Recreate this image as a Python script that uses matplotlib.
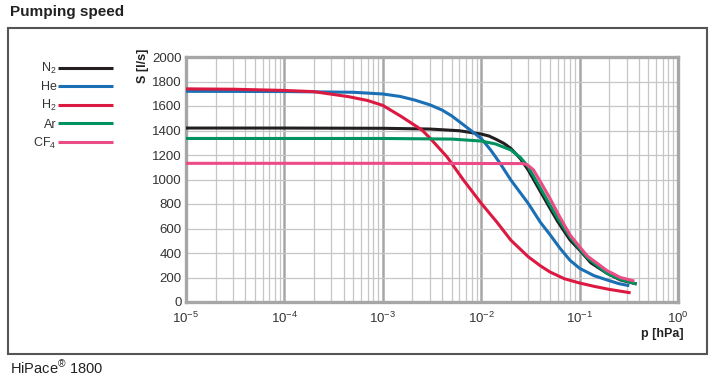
import matplotlib
matplotlib.use("Agg")
import matplotlib.pyplot as plt
from matplotlib.patches import Rectangle
from matplotlib.ticker import FixedLocator, LogLocator, NullFormatter

plt.rcParams['font.family'] = ['Liberation Sans', 'DejaVu Sans']
plt.rcParams['mathtext.fontset'] = 'custom'
plt.rcParams['mathtext.rm'] = 'Liberation Sans'
plt.rcParams['mathtext.it'] = 'Liberation Sans:italic'
plt.rcParams['mathtext.bf'] = 'Liberation Sans:bold'

# Data (pressure in hPa, pumping speed in l/s)
p_n2 = [1e-5, 1e-4, 1e-3, 3e-3, 6e-3, 1e-2, 1.2e-2, 1.4e-2, 1.7e-2, 2e-2, 2.5e-2, 3e-2,
        4e-2, 5e-2, 6e-2, 8e-2, 1e-1, 1.3e-1, 1.9e-1, 2.6e-1, 3.8e-1]
s_n2 = [1420, 1420, 1418, 1412, 1398, 1371, 1355, 1330, 1295, 1254, 1170, 1078,
        901, 765, 656, 506, 424, 320, 234, 180, 147]

p_he = [1e-5, 1e-4, 5e-4, 1e-3, 1.5e-3, 2.1e-3, 3e-3, 4e-3, 5e-3, 6.3e-3, 8e-3, 1e-2,
        1.25e-2, 1.55e-2, 2e-2, 3e-2, 4e-2, 5e-2, 6.3e-2, 8e-2, 1e-1, 1.4e-1, 1.9e-1,
        2.5e-1, 3.2e-1]
s_he = [1720, 1718, 1712, 1698, 1678, 1649, 1610, 1567, 1520, 1459, 1395, 1335,
        1240, 1134, 996, 806, 650, 550, 440, 340, 275, 215, 180,
        150, 133]

p_h2 = [1e-5, 3e-5, 1e-4, 2e-4, 4.5e-4, 7e-4, 1e-3, 1.55e-3, 2.5e-3, 3e-3, 4.5e-3, 6.6e-3,
        1e-2, 1.45e-2, 2e-2, 3e-2, 4e-2, 5e-2, 7e-2, 1e-1, 1.4e-1, 2e-1, 3.3e-1]
s_h2 = [1740, 1737, 1727, 1717, 1676, 1645, 1605, 1513, 1404, 1340, 1184, 996,
        806, 650, 505, 370, 295, 245, 190, 155, 128, 103, 75]

p_ar = [1e-5, 1e-3, 5e-3, 1e-2, 1.4e-2, 2e-2, 2.5e-2, 3e-2, 4e-2, 5e-2, 6e-2, 8e-2,
        1e-1, 1.2e-1, 1.9e-1, 2.6e-1, 3.8e-1]
s_ar = [1335, 1335, 1330, 1314, 1290, 1241, 1180, 1105, 928, 792, 683, 530,
        435, 360, 234, 185, 147]

p_cf4 = [1e-5, 1e-3, 2.6e-2, 2.8e-2, 3e-2, 3.4e-2, 4e-2, 5e-2, 6e-2, 8e-2, 1e-1, 1.2e-1,
         1.9e-1, 2.6e-1, 3.6e-1]
s_cf4 = [1132, 1132, 1130, 1126, 1115, 1078, 982, 846, 724, 547, 451, 375,
         256, 200, 171]

labels = ['N$_2$', 'He', 'H$_2$', 'Ar', 'CF$_4$']
colors = ['#231f20', '#1b6fb5', '#dc1940', '#009260', '#ec4c86']
x_ticks = [1e-5, 1e-4, 1e-3, 1e-2, 1e-1, 1e0]
x_ticklabels = ['$10^{-5}$', '$10^{-4}$', '$10^{-3}$', '$10^{-2}$', '$10^{-1}$', '$10^{0}$']
y_ticks = list(range(0, 2001, 200))

W, H = 717, 387
fig = plt.figure(figsize=(W / 100, H / 100), dpi=100)
ax = fig.add_axes([186 / W, 85 / H, 492 / W, 245 / H])

series = [(p_n2, s_n2), (p_he, s_he), (p_h2, s_h2), (p_ar, s_ar), (p_cf4, s_cf4)]
handles = []
for (p, s), lab, c in zip(series, labels, colors):
    h, = ax.plot(p, s, color=c, lw=2.2, label=lab, solid_capstyle='butt',
                 solid_joinstyle='round', zorder=3)
    handles.append(h)

ax.set_xscale('log')
ax.set_xlim(1e-5, 1e0)
ax.set_ylim(0, 2000)
ax.xaxis.set_major_locator(FixedLocator(x_ticks))
ax.set_xticklabels(x_ticklabels)
ax.xaxis.set_minor_locator(LogLocator(base=10, subs=range(2, 10)))
ax.xaxis.set_minor_formatter(NullFormatter())
ax.set_yticks(y_ticks)
ax.tick_params(axis='both', which='both', length=0, labelsize=9.5, colors='#333333')
ax.tick_params(axis='x', pad=6)
ax.tick_params(axis='y', pad=3)

ax.grid(True, axis='x', which='major', color='#a6a6a6', lw=1.8, zorder=1)
ax.grid(True, axis='x', which='minor', color='#c6c6c6', lw=0.9, zorder=1)
ax.grid(True, axis='y', which='major', color='#c6c6c6', lw=0.9, zorder=1)
for sp in ax.spines.values():
    sp.set_color('#a6a6a6')
    sp.set_linewidth(2.4)

# outer frame, title and caption
fig.patches.append(Rectangle((8 / W, 33 / H), 699 / W, 326 / H, transform=fig.transFigure,
                             fill=False, edgecolor='#555555', lw=1.5))
fig.text(10 / W, 1 - 12 / H, 'Pumping speed', fontsize=11, fontweight='bold',
         color='#222222', va='center', ha='left')
fig.text(10 / W, 1 - 368 / H, 'HiPace$^{®}$ 1800', fontsize=10.5, color='#222222',
         va='center', ha='left')
fig.text(143 / W, 1 - 66 / H, 'S [l/s]', fontsize=9, fontweight='bold', rotation=90,
         color='#222222', va='center', ha='center')
fig.text(684 / W, 1 - 334 / H, 'p [hPa]', fontsize=9, fontweight='bold',
         color='#222222', va='center', ha='right')

fig.legend(handles=handles, labels=labels, loc='upper left',
           bbox_to_anchor=(33 / W, 1 - 61 / H), markerfirst=False, frameon=False,
           fontsize=9, handlelength=4.4, handletextpad=0.15, labelspacing=0.41,
           borderpad=0, borderaxespad=0, labelcolor='#333333')

fig.savefig('out.png', dpi=100)
